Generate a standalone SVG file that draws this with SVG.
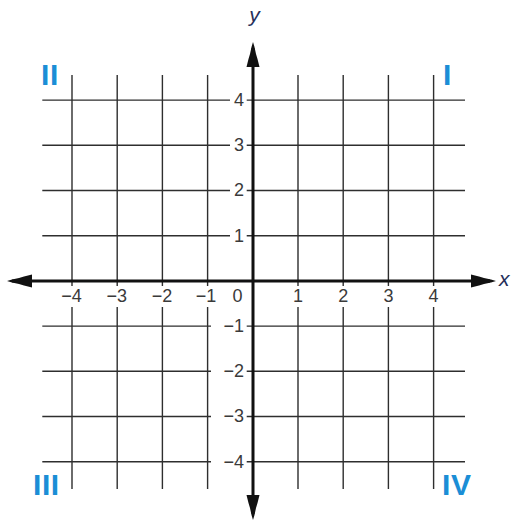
<svg xmlns="http://www.w3.org/2000/svg" width="515" height="521" viewBox="0 0 515 521" xmlns:xlink="http://www.w3.org/1999/xlink">
<style>
.grid{stroke:#2e2e2e;stroke-width:1.4;fill:none}
.axis{stroke:#111;stroke-width:3;fill:none}
.num{font-family:"Liberation Sans",Arial,sans-serif;font-size:18px;fill:#3a3a3a}
.quad{font-family:"Liberation Sans",Arial,sans-serif;font-size:30px;font-weight:bold;fill:#1b8ed6;letter-spacing:0.6px}
.var{font-family:"Liberation Sans",Arial,sans-serif;font-size:21px;font-style:italic;fill:#26305a}
</style>
<defs>
<path id="ah" d="M0,0 L1.5,5 L3,12 L4.5,17 L6.5,25 L-6.5,25 L-4.5,17 L-3,12 L-1.5,5 Z" fill="#111"/>
</defs>
<rect width="515" height="521" fill="#fff"/>
<g id="grid" class="grid">
<path d="M72,75V286M72,307V489M117.2,75V286M117.2,307V489M162.4,75V286M162.4,307V489M207.6,75V286M207.6,307V489M298,75V286M298,307V489M343.2,75V286M343.2,307V489M388.4,75V286M388.4,307V489M433.6,75V286M433.6,307V489"/>
<path d="M42.3,100.1H230M246.7,100.1H465M42.3,145.3H230M246.7,145.3H465M42.3,190.5H230M246.7,190.5H465M42.3,235.7H230M246.7,235.7H465"/>
<path d="M42.3,326.1H211M246.7,326.1H465M42.3,371.3H211M246.7,371.3H465M42.3,416.5H211M246.7,416.5H465M42.3,461.7H211M246.7,461.7H465"/>
</g>
<g id="axes">
<line class="axis" x1="12" y1="281" x2="490" y2="281"/>
<line class="axis" x1="253" y1="48" x2="253" y2="514"/>
<use xlink:href="#ah" transform="translate(253,42)"/>
<use xlink:href="#ah" transform="translate(253,520) rotate(180)"/>
<use xlink:href="#ah" transform="translate(7,281) rotate(-90)"/>
<use xlink:href="#ah" transform="translate(496,281) rotate(90)"/>
<text class="var" x="254.5" y="22" text-anchor="middle">y</text>
<text class="var" x="499" y="286">x</text>
</g>
<g id="xlabels" class="num" text-anchor="middle">
<text x="71.5" y="301.7">−4</text>
<text x="116.7" y="301.7">−3</text>
<text x="161.9" y="301.7">−2</text>
<text x="206" y="301.7">−1</text>
<text x="237.5" y="301.7">0</text>
<text x="298" y="301.7">1</text>
<text x="343.2" y="301.7">2</text>
<text x="388.4" y="301.7">3</text>
<text x="433.6" y="301.7">4</text>
</g>
<g id="ylabels" class="num" text-anchor="end">
<text x="244" y="106">4</text>
<text x="244" y="151.2">3</text>
<text x="244" y="196.4">2</text>
<text x="244" y="241.6">1</text>
<text x="244" y="332">−1</text>
<text x="244" y="377.2">−2</text>
<text x="244" y="422.4">−3</text>
<text x="244" y="467.6">−4</text>
</g>
<g id="quadrants" class="quad">
<text x="41" y="85">II</text>
<text x="443" y="85">I</text>
<text x="33" y="495">III</text>
<text x="442" y="495">IV</text>
</g>
</svg>
